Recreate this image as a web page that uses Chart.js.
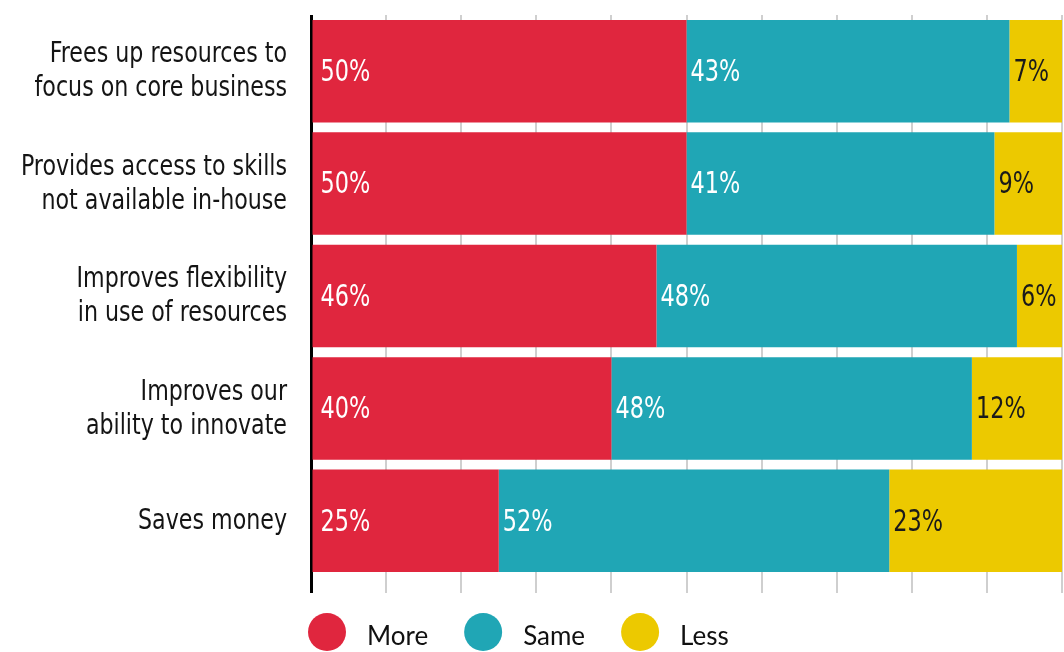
<!DOCTYPE html>
<html>
<head>
<meta charset="utf-8">
<script src="https://cdn.jsdelivr.net/npm/chart.js@4"></script>
<style>
  html, body { margin: 0; padding: 0; background: #ffffff; }
  #wrap { position: relative; width: 1064px; height: 652px; }
</style>
</head>
<body>
<div id="wrap"><canvas id="c" width="1064" height="652"></canvas></div>
<script>
// ---- data ----
const categories = [
  ["Frees up resources to", "focus on core business"],
  ["Provides access to skills", "not available in-house"],
  ["Improves flexibility", "in use of resources"],
  ["Improves our", "ability to innovate"],
  ["Saves money"]
];
const seriesNames = ["More", "Same", "Less"];
const moreValues = [50, 50, 46, 40, 25];
const sameValues = [43, 41, 48, 48, 52];
const lessValues = [7, 9, 6, 12, 23];
const xTicks = [0, 10, 20, 30, 40, 50, 60, 70, 80, 90, 100];

const colors = ["#E0263E", "#20A6B5", "#ECC900"];
const labelColors = ["#ffffff", "#ffffff", "#1a1a1a"];

const LABEL_FONT = "'Liberation Sans Narrow', 'DejaVu Sans Condensed', sans-serif";
const LEGEND_FONT = "Lato, 'Open Sans', sans-serif";
const CONDENSE = 0.88;

// y-axis category labels (condensed), positioned by the y scale
const categoryLabels = {
  id: 'categoryLabels',
  afterDraw(chart) {
    const ctx = chart.ctx;
    const yScale = chart.scales.y;
    const rightX = chart.chartArea.left - 24;
    const lineH = 34;
    ctx.save();
    ctx.font = "28px " + LABEL_FONT;
    ctx.fillStyle = "#141414";
    ctx.textBaseline = "middle";
    ctx.textAlign = "right";
    chart.data.labels.forEach((lab, i) => {
      const lines = Array.isArray(lab) ? lab : [lab];
      const cy = yScale.getPixelForTick(i) + 1;
      lines.forEach((ln, li) => {
        const y = cy + (li - (lines.length - 1) / 2) * lineH;
        ctx.save();
        ctx.translate(rightX, y);
        ctx.scale(CONDENSE, 1);
        ctx.fillText(ln, 0, 0);
        ctx.restore();
      });
    });
    ctx.restore();
  }
};

// value labels inside segments
const segmentLabels = {
  id: 'segmentLabels',
  afterDatasetsDraw(chart) {
    const ctx = chart.ctx;
    ctx.save();
    ctx.font = "30px " + LABEL_FONT;
    ctx.textBaseline = "middle";
    ctx.textAlign = "left";
    chart.data.datasets.forEach((ds, di) => {
      const meta = chart.getDatasetMeta(di);
      meta.data.forEach((bar, i) => {
        const left = Math.min(bar.x, bar.base);
        ctx.fillStyle = labelColors[di];
        const off = di === 0 ? 8 : 4;
        ctx.save();
        ctx.translate(left + off, bar.y + 2);
        ctx.scale(0.83, 1);
        ctx.fillText(ds.data[i] + "%", 0, 0);
        ctx.restore();
      });
    });
    ctx.restore();
  }
};

// legend with large circles
const circleLegend = {
  id: 'circleLegend',
  afterDraw(chart) {
    const ctx = chart.ctx;
    ctx.save();
    ctx.font = "26px " + LEGEND_FONT;
    ctx.textBaseline = "middle";
    ctx.textAlign = "left";
    let x = chart.chartArea.left - 3;
    const y = 632;
    const r = 19;
    chart.data.datasets.forEach((ds) => {
      ctx.fillStyle = ds.backgroundColor;
      ctx.beginPath();
      ctx.arc(x + r, y, r, 0, Math.PI * 2);
      ctx.fill();
      ctx.fillStyle = "#111111";
      const tx = x + 2 * r + 21;
      ctx.fillText(ds.label, tx, y + 5);
      x = tx + ctx.measureText(ds.label).width + 36;
    });
    ctx.restore();
  }
};

const valueSets = [moreValues, sameValues, lessValues];

new Chart(document.getElementById('c'), {
  type: 'bar',
  data: {
    labels: categories,
    datasets: seriesNames.map((name, i) => ({
      label: name,
      data: valueSets[i],
      backgroundColor: colors[i],
      borderWidth: 0,
      barPercentage: 0.912,
      categoryPercentage: 1.0
    }))
  },
  options: {
    indexAxis: 'y',
    responsive: false,
    animation: false,
    layout: { padding: { left: 0, right: 2, top: 15, bottom: 59 } },
    plugins: {
      legend: { display: false },
      tooltip: { enabled: false }
    },
    scales: {
      x: {
        stacked: true,
        min: 0,
        max: 100,
        afterBuildTicks(scale) {
          scale.ticks = xTicks.map(v => ({ value: v }));
        },
        border: { display: false },
        grid: {
          color: (ctx) => ctx.index === 0 ? "#000000" : "#cfcfcf",
          lineWidth: (ctx) => ctx.index === 0 ? 3 : 2,
          tickLength: 16,
          drawTicks: true
        },
        ticks: { display: false }
      },
      y: {
        stacked: true,
        afterFit(scale) { scale.width = 311; scale.paddingTop = 0; scale.paddingBottom = 0; },
        border: { display: false },
        grid: { display: false, drawTicks: false },
        ticks: { display: false }
      }
    }
  },
  plugins: [segmentLabels, categoryLabels, circleLegend]
});
</script>
</body>
</html>
